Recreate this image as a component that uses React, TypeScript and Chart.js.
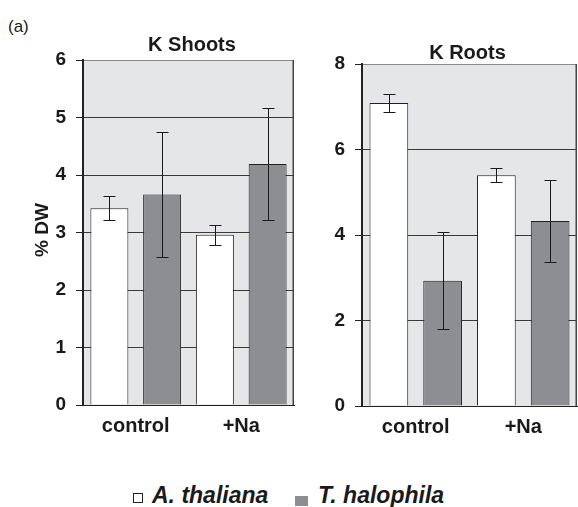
import React, { useEffect, useRef } from 'react';
import { Chart, registerables } from 'chart.js';

Chart.register(...registerables);

const categories = ['control', '+Na'];
const seriesNames = ['A. thaliana', 'T. halophila'];

const shootsThaliana = [3.42, 2.96];
const shootsThalianaErr = [0.21, 0.17];
const shootsHalophila = [3.66, 4.19];
const shootsHalophilaErr = [1.09, 0.97];

const rootsThaliana = [7.09, 5.4];
const rootsThalianaErr = [0.21, 0.17];
const rootsHalophila = [2.93, 4.33];
const rootsHalophilaErr = [1.13, 0.96];

const shootsTicks = [0, 1, 2, 3, 4, 5, 6];
const rootsTicks = [0, 2, 4, 6, 8];

const FONT = '"Liberation Sans", Arial, sans-serif';
const WHITE = '#ffffff';
const GRAY = '#8d8e91';
const BG = '#e5e6e8';
const INK = '#1a1a1a';

const panelPlugin = {
  id: 'panel',
  beforeDraw(chart: any) {
    const { ctx, chartArea: a } = chart;
    ctx.save();
    ctx.fillStyle = BG;
    ctx.fillRect(a.left, a.top, a.right - a.left, a.bottom - a.top);
    ctx.restore();
  },
  afterDatasetsDraw(chart: any) {
    const ctx = chart.ctx;
    const ys = chart.scales.y;
    ctx.save();
    ctx.strokeStyle = '#1a1a1a';
    ctx.lineWidth = 1;
    chart.data.datasets.forEach((ds: any, i: number) => {
      const meta = chart.getDatasetMeta(i);
      meta.data.forEach((el: any, j: number) => {
        const v = ds.data[j];
        const e = ds.errors[j];
        const x = Math.round(el.x) + 0.5;
        const yt = Math.round(ys.getPixelForValue(v + e)) + 0.5;
        const yb = Math.round(ys.getPixelForValue(v - e)) + 0.5;
        ctx.beginPath();
        ctx.moveTo(x, yt);
        ctx.lineTo(x, yb);
        ctx.moveTo(x - 6, yt);
        ctx.lineTo(x + 6, yt);
        ctx.moveTo(x - 6, yb);
        ctx.lineTo(x + 6, yb);
        ctx.stroke();
      });
    });
    ctx.restore();
  },
  afterDraw(chart: any, _args: any, opts: any) {
    const { ctx, chartArea: a } = chart;
    ctx.save();
    ctx.strokeStyle = '#444';
    ctx.lineWidth = 1.5;
    ctx.beginPath();
    ctx.moveTo(a.right - 0.75, a.top);
    ctx.lineTo(a.right - 0.75, a.bottom);
    ctx.stroke();
    ctx.fillStyle = INK;
    ctx.font = `bold 20px ${FONT}`;
    ctx.textAlign = 'center';
    ctx.textBaseline = 'alphabetic';
    ctx.fillText(opts.title, opts.titleX, opts.titleY);
    if (opts.yTitle) {
      ctx.translate(opts.yTitleX, opts.yTitleY);
      ctx.rotate(-Math.PI / 2);
      ctx.font = `bold 19px ${FONT}`;
      ctx.textBaseline = 'middle';
      ctx.fillText(opts.yTitle, 0, 0);
    }
    ctx.restore();
  },
};

function makeConfig(p: any) {
  return {
    type: 'bar',
    data: {
      labels: categories,
      datasets: [
        {
          label: seriesNames[0],
          data: p.a,
          errors: p.aErr,
          backgroundColor: WHITE,
          borderColor: '#222',
          borderWidth: 1,
        },
        {
          label: seriesNames[1],
          data: p.b,
          errors: p.bErr,
          backgroundColor: GRAY,
          borderColor: '#222',
          borderWidth: 1,
        },
      ],
    },
    plugins: [panelPlugin],
    options: {
      animation: false,
      responsive: false,
      devicePixelRatio: 1,
      layout: { padding: { top: p.top, right: p.right, left: 0, bottom: 0 } },
      datasets: { bar: { categoryPercentage: 1, barPercentage: 0.72 } },
      plugins: {
        legend: { display: false },
        tooltip: { enabled: false },
        title: { display: false },
        panel: {
          title: p.title,
          titleX: p.titleX,
          titleY: p.titleY,
          yTitle: p.yTitle,
          yTitleX: p.yTitleX,
          yTitleY: p.yTitleY,
        },
      },
      scales: {
        x: {
          grid: { display: false },
          border: { display: true, color: '#222', width: 1 },
          ticks: { font: { family: FONT, size: 20, weight: 'bold' }, color: INK, padding: 1 },
          afterFit: (s: any) => {
            s.height = p.xHeight;
          },
        },
        y: {
          min: 0,
          max: p.max,
          afterBuildTicks: (s: any) => {
            s.ticks = p.ticks.map((v: number) => ({ value: v }));
          },
          afterFit: (s: any) => {
            s.width = p.yWidth;
          },
          grid: {
            color: (c: any) => (c.tick && c.tick.value === p.max ? '#8a8a8a' : '#3a3a3a'),
            tickColor: '#222',
            tickLength: 7,
            lineWidth: 1,
          },
          border: { color: '#222', width: 2 },
          ticks: { font: { family: FONT, size: 19, weight: 'bold' }, color: INK, padding: 10 },
        },
      },
    },
  };
}

export default function App() {
  const leftRef = useRef<HTMLCanvasElement>(null);
  const rightRef = useRef<HTMLCanvasElement>(null);

  useEffect(() => {
    const c1 = new Chart(
      leftRef.current as HTMLCanvasElement,
      makeConfig({
        a: shootsThaliana,
        aErr: shootsThalianaErr,
        b: shootsHalophila,
        bErr: shootsHalophilaErr,
        max: 6,
        ticks: shootsTicks,
        top: 60,
        right: 6,
        yWidth: 83,
        xHeight: 40,
        title: 'K Shoots',
        titleX: 192,
        titleY: 51,
        yTitle: '% DW',
        yTitleX: 43,
        yTitleY: 230,
      }) as any
    );
    const c2 = new Chart(
      rightRef.current as HTMLCanvasElement,
      makeConfig({
        a: rootsThaliana,
        aErr: rootsThalianaErr,
        b: rootsHalophila,
        bErr: rootsHalophilaErr,
        max: 8,
        ticks: rootsTicks,
        top: 64,
        right: 1,
        yWidth: 62,
        xHeight: 39,
        title: 'K Roots',
        titleX: 167.5,
        titleY: 59,
      }) as any
    );
    return () => {
      c1.destroy();
      c2.destroy();
    };
  }, []);

  return (
    <div
      style={{
        position: 'absolute',
        left: 0,
        top: 0,
        width: 578,
        height: 507,
        background: '#fff',
        overflow: 'hidden',
        fontFamily: FONT,
        color: INK,
      }}
    >
      <div style={{ position: 'absolute', left: 8, top: 18, fontSize: 17, lineHeight: '17px' }}>(a)</div>
      <canvas ref={leftRef} width={300} height={445} style={{ position: 'absolute', left: 0, top: 0 }} />
      <canvas ref={rightRef} width={278} height={445} style={{ position: 'absolute', left: 300, top: 0 }} />
      <div
        style={{
          position: 'absolute',
          left: 133,
          top: 493,
          width: 10,
          height: 10,
          boxSizing: 'border-box',
          border: '1px solid #222',
          background: WHITE,
        }}
      />
      <div
        style={{
          position: 'absolute',
          left: 152,
          top: 484,
          fontSize: 23,
          lineHeight: '23px',
          fontStyle: 'italic',
          fontWeight: 'bold',
          whiteSpace: 'nowrap',
        }}
      >
        {seriesNames[0]}
      </div>
      <div style={{ position: 'absolute', left: 295, top: 496, width: 13, height: 10, background: GRAY }} />
      <div
        style={{
          position: 'absolute',
          left: 318,
          top: 484,
          fontSize: 23,
          lineHeight: '23px',
          fontStyle: 'italic',
          fontWeight: 'bold',
          whiteSpace: 'nowrap',
        }}
      >
        {seriesNames[1]}
      </div>
    </div>
  );
}
